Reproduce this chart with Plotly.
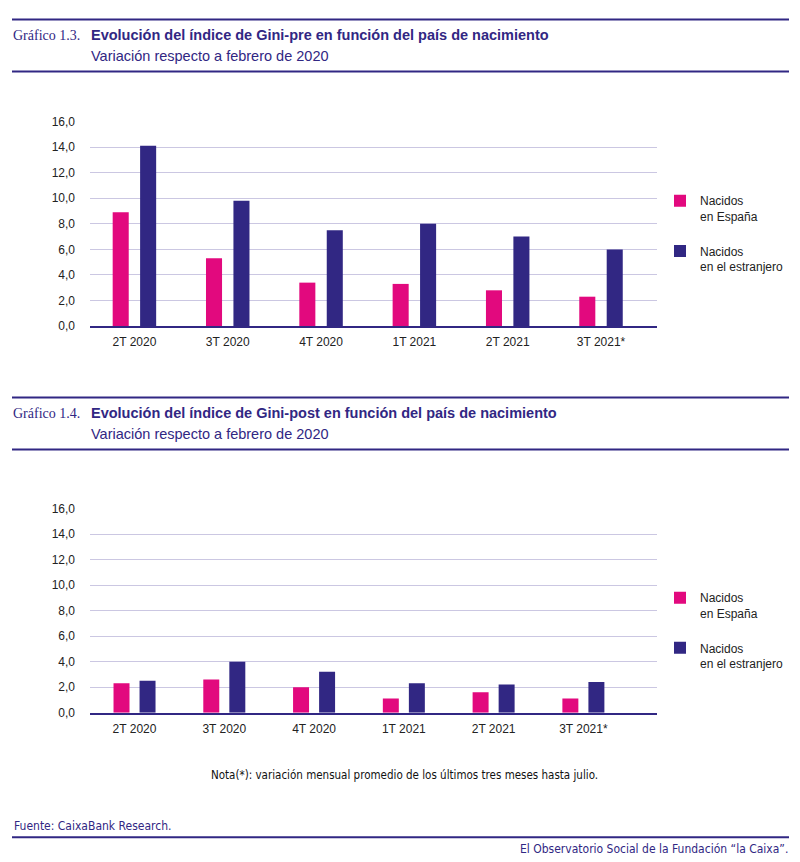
import plotly.graph_objects as go

# datos (variación respecto a febrero de 2020)
categorias = ["2T 2020", "3T 2020", "4T 2020", "1T 2021", "2T 2021", "3T 2021*"]
pre_espana = [8.9, 5.3, 3.4, 3.3, 2.8, 2.3]
pre_extranjero = [14.1, 9.8, 7.5, 8.0, 7.0, 6.0]
post_espana = [2.3, 2.6, 2.0, 1.1, 1.6, 1.1]
post_extranjero = [2.5, 4.0, 3.2, 2.3, 2.2, 2.4]
nombres = ["Nacidos<br>en España", "Nacidos<br>en el estranjero"]
y_ticks = [0, 2, 4, 6, 8, 10, 12, 14, 16]

W, H = 800, 862
ROSA = "#e2097e"
AZUL = "#312783"
GRID = "#cbc7e2"
FONT = "Liberation Sans"
NARROW = "Liberation Sans Narrow, DejaVu Sans Condensed"


def px(x):
    return x / W


def py(y):
    # la captura desplaza y comprime un poco en vertical
    return 1 - ((y - 6.5) / 0.984) / H


fig = go.Figure()

# (eje x, eje y, leyenda, series, ancho de barra, separación del centro)
paneles = [
    ("x", "y", "legend", pre_espana, pre_extranjero, 0.172, 0.147),
    ("x2", "y2", "legend2", post_espana, post_extranjero, 0.178, 0.145),
]
for xa, ya, leg, espana, extranjero, ancho, sep in paneles:
    series = [(nombres[0], espana, ROSA, -sep), (nombres[1], extranjero, AZUL, sep)]
    for nombre, valores, color, centro in series:
        fig.add_trace(go.Bar(
            x=categorias, y=valores, name=nombre, marker_color=color,
            marker_line_width=0, width=ancho, offset=centro - ancho / 2,
            xaxis=xa, yaxis=ya, legend=leg,
            legendgroup=leg + nombre, hoverinfo="x+y",
        ))

eje_x = dict(
    showgrid=False, showline=True, linecolor=AZUL, linewidth=1.5,
    ticks="", tickfont=dict(family=FONT, size=12, color="#222"),
    ticklabelstandoff=4, fixedrange=True,
)
eje_y = dict(
    range=[0, 16], tickvals=y_ticks, tickformat=".1f", showline=False,
    gridcolor=GRID, gridwidth=1, zeroline=False, ticks="",
    tickfont=dict(family=FONT, size=12, color="#222"),
    ticklabelstandoff=14, fixedrange=True,
)
leyenda = dict(
    xanchor="left", yanchor="top", valign="top", bgcolor="rgba(0,0,0,0)",
    font=dict(family=FONT, size=12, color="#222"), tracegroupgap=16,
    itemclick=False, itemdoubleclick=False,
)

fig.update_layout(
    width=W, height=H, margin=dict(l=0, r=0, t=0, b=0),
    paper_bgcolor="white", plot_bgcolor="white",
    separators=",.", barmode="overlay",
    xaxis=dict(eje_x, domain=[px(90), px(657)], anchor="y", range=[-0.476, 5.60]),
    yaxis=dict(eje_y, domain=[py(325.7), py(121)], anchor="x"),
    xaxis2=dict(eje_x, domain=[px(90), px(657)], anchor="y2", range=[-0.496, 5.82]),
    yaxis2=dict(eje_y, domain=[py(712.3), py(508.3)], anchor="x2"),
    legend=dict(leyenda, x=px(660), y=py(186)),
    legend2=dict(leyenda, x=px(660), y=py(583)),
    showlegend=True,
)

# cabeceras de los gráficos
cabeceras = [
    (19, 35, 56, 71, "Gráfico 1.3.", "Evolución del índice de Gini-pre en función del país de nacimiento"),
    (397, 413, 434, 449, "Gráfico 1.4.", "Evolución del índice de Gini-post en función del país de nacimiento"),
]
for y_l1, y_tit, y_sub, y_l2, num, titulo in cabeceras:
    for yl in (y_l1, y_l2):
        fig.add_shape(type="line", xref="paper", yref="paper",
                      x0=px(12), x1=px(789), y0=py(yl), y1=py(yl),
                      line=dict(color=AZUL, width=2))
    fig.add_annotation(text=num, x=px(11), y=py(y_tit), xref="paper", yref="paper",
                       xanchor="left", yanchor="middle", showarrow=False,
                       font=dict(family="Liberation Serif", size=14, color=AZUL))
    fig.add_annotation(text="<b>" + titulo + "</b>", x=px(89), y=py(y_tit),
                       xref="paper", yref="paper", xanchor="left", yanchor="middle",
                       showarrow=False, font=dict(family=FONT, size=14.5, color=AZUL))
    fig.add_annotation(text="Variación respecto a febrero de 2020", x=px(89), y=py(y_sub),
                       xref="paper", yref="paper", xanchor="left", yanchor="middle",
                       showarrow=False, font=dict(family=FONT, size=14.5, color=AZUL))

# pie
fig.add_annotation(text="Nota(*): variación mensual promedio de los últimos tres meses hasta julio.",
                   x=px(404), y=py(775), xref="paper", yref="paper", xanchor="center",
                   yanchor="middle", showarrow=False,
                   font=dict(family=NARROW, size=11.5, color="#111"))
fig.add_annotation(text="Fuente: CaixaBank Research.", x=px(12), y=py(826), xref="paper",
                   yref="paper", xanchor="left", yanchor="middle", showarrow=False,
                   font=dict(family=NARROW, size=12, color=AZUL))
fig.add_shape(type="line", xref="paper", yref="paper", x0=px(12), x1=px(789),
              y0=py(837), y1=py(837), line=dict(color=AZUL, width=2))
fig.add_annotation(text="El Observatorio Social de la Fundación “la Caixa”.", x=px(790), y=py(849),
                   xref="paper", yref="paper", xanchor="right", yanchor="middle", showarrow=False,
                   font=dict(family=NARROW, size=12, color=AZUL))

fig.write_html("out.html", config={"displayModeBar": False},
               post_script="document.body.style.margin='0px';")
